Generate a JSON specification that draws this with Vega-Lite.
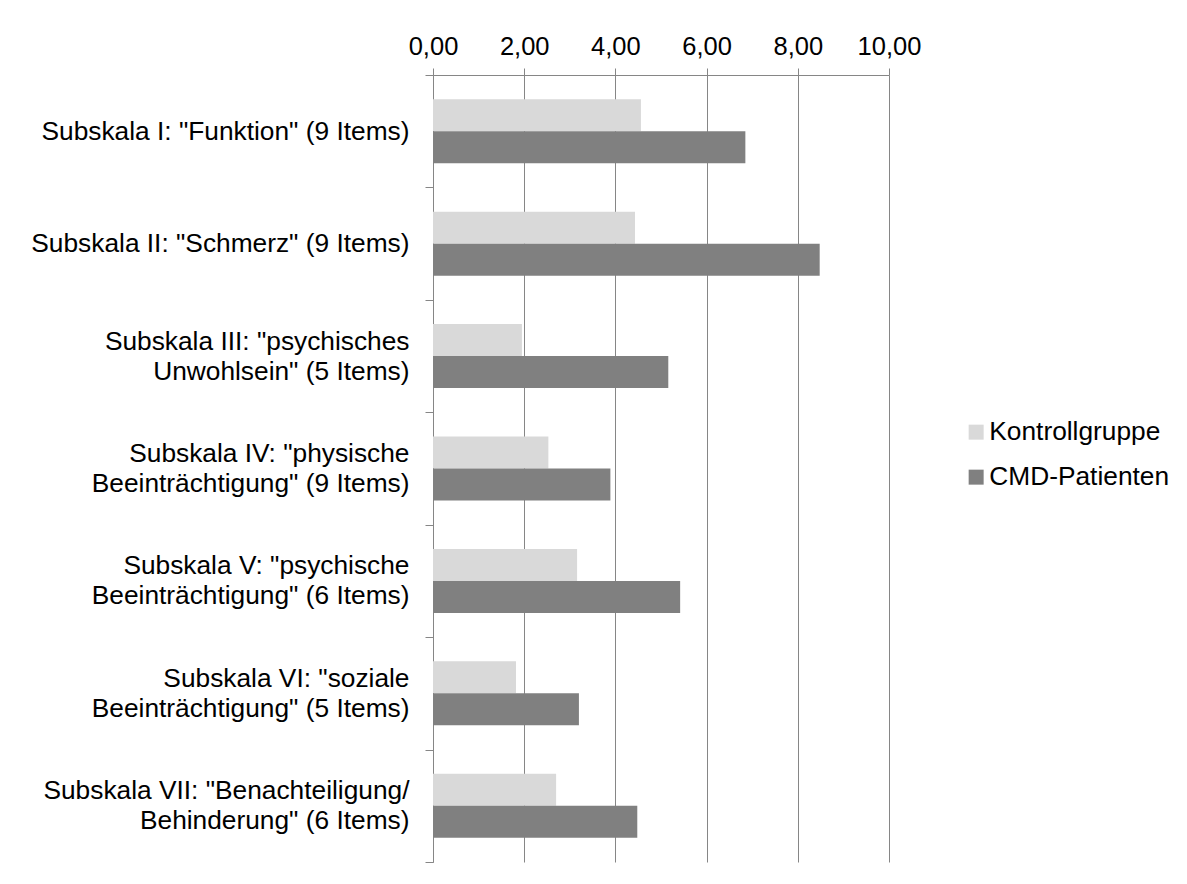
{
  "$schema": "https://vega.github.io/schema/vega-lite/v6.json",
  "width": 456,
  "height": 787,
  "autosize": {"type": "none"},
  "padding": {"left": 433, "top": 75, "right": 298, "bottom": 22},
  "background": "white",
  "config": {"view": {"stroke": null}, "font": "Liberation Sans"},
  "data": {"values": [
    {"subskala": "Subskala I: \"Funktion\" (9 Items)", "gruppe": "Kontrollgruppe", "wert": 4.56},
    {"subskala": "Subskala I: \"Funktion\" (9 Items)", "gruppe": "CMD-Patienten", "wert": 6.85},
    {"subskala": "Subskala II: \"Schmerz\" (9 Items)", "gruppe": "Kontrollgruppe", "wert": 4.43},
    {"subskala": "Subskala II: \"Schmerz\" (9 Items)", "gruppe": "CMD-Patienten", "wert": 8.48},
    {"subskala": "Subskala III: \"psychisches\nUnwohlsein\" (5 Items)", "gruppe": "Kontrollgruppe", "wert": 1.95},
    {"subskala": "Subskala III: \"psychisches\nUnwohlsein\" (5 Items)", "gruppe": "CMD-Patienten", "wert": 5.16},
    {"subskala": "Subskala IV: \"physische\nBeeinträchtigung\" (9 Items)", "gruppe": "Kontrollgruppe", "wert": 2.53},
    {"subskala": "Subskala IV: \"physische\nBeeinträchtigung\" (9 Items)", "gruppe": "CMD-Patienten", "wert": 3.89},
    {"subskala": "Subskala V: \"psychische\nBeeinträchtigung\" (6 Items)", "gruppe": "Kontrollgruppe", "wert": 3.16},
    {"subskala": "Subskala V: \"psychische\nBeeinträchtigung\" (6 Items)", "gruppe": "CMD-Patienten", "wert": 5.42},
    {"subskala": "Subskala VI: \"soziale\nBeeinträchtigung\" (5 Items)", "gruppe": "Kontrollgruppe", "wert": 1.82},
    {"subskala": "Subskala VI: \"soziale\nBeeinträchtigung\" (5 Items)", "gruppe": "CMD-Patienten", "wert": 3.20},
    {"subskala": "Subskala VII: \"Benachteiligung/\nBehinderung\" (6 Items)", "gruppe": "Kontrollgruppe", "wert": 2.70},
    {"subskala": "Subskala VII: \"Benachteiligung/\nBehinderung\" (6 Items)", "gruppe": "CMD-Patienten", "wert": 4.48}
  ]},
  "mark": {"type": "bar"},
  "encoding": {
    "y": {
      "field": "subskala", "type": "nominal", "sort": null,
      "scale": {"paddingInner": 0, "paddingOuter": 0},
      "axis": {
        "title": null, "tickBand": "extent",
        "labelExpr": "split(datum.label, '\\n')",
        "labelFontSize": 26.3, "labelColor": "black", "labelAlign": "right",
        "labelLineHeight": 30, "tickSize": 8, "labelPadding": 16, "labelLimit": 0,
        "labelOffset": {"condition": {"test": "indexof(datum.label, '\\n') >= 0", "value": -15}, "value": 0},
        "domainColor": "#868686", "tickColor": "#868686", "grid": false
      }
    },
    "yOffset": {
      "field": "gruppe", "type": "nominal", "sort": ["Kontrollgruppe", "CMD-Patienten"],
      "scale": {"paddingInner": 0, "paddingOuter": 0.756}
    },
    "x": {
      "field": "wert", "type": "quantitative",
      "scale": {"domain": [0, 10], "nice": false},
      "axis": {
        "orient": "top", "title": null, "values": [0, 2, 4, 6, 8, 10],
        "labelExpr": "replace(format(datum.value, '.2f'), '.', ',')",
        "labelFlush": false, "labelOverlap": false,
        "grid": true, "gridColor": "#868686", "gridOpacity": 1,
        "domainColor": "#868686", "tickColor": "#868686", "tickSize": 7,
        "labelFontSize": 25.5, "labelColor": "black", "labelPadding": 9
      }
    },
    "color": {
      "field": "gruppe", "type": "nominal",
      "scale": {"domain": ["Kontrollgruppe", "CMD-Patienten"], "range": ["#d9d9d9", "#808080"]},
      "legend": {
        "orient": "none", "legendX": 530, "legendY": 344, "title": null,
        "symbolType": "square", "symbolSize": 225, "symbolStrokeWidth": 0,
        "labelFontSize": 26.3, "labelColor": "black", "rowPadding": 18,
        "labelOffset": 0, "padding": 0, "labelLimit": 400
      }
    }
  }
}
